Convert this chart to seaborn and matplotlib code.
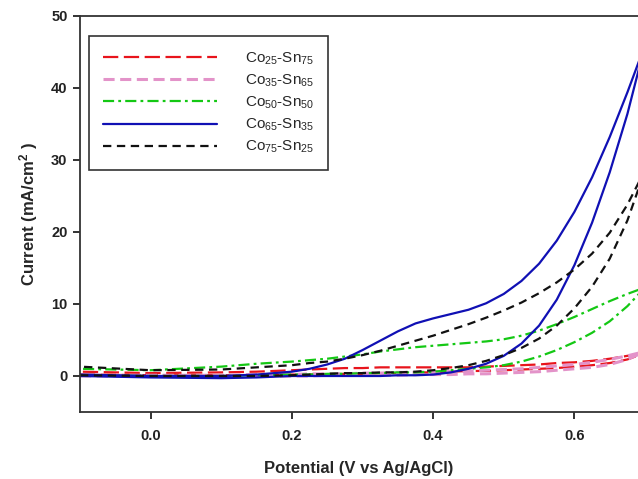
import matplotlib
matplotlib.use("Agg")
import matplotlib.pyplot as plt
import seaborn as sns
import pandas as pd

# potential grid (V vs Ag/AgCl), shared by both scan branches
potential = [-0.10, 0.00, 0.10, 0.15, 0.20, 0.225, 0.25, 0.275, 0.30, 0.325,
             0.35, 0.375, 0.40, 0.425, 0.45, 0.475, 0.50, 0.525, 0.55, 0.575,
             0.60, 0.625, 0.65, 0.675, 0.70]

alloys = ["Co$_{25}$-Sn$_{75}$", "Co$_{35}$-Sn$_{65}$", "Co$_{50}$-Sn$_{50}$",
          "Co$_{65}$-Sn$_{35}$", "Co$_{75}$-Sn$_{25}$"]

# current (mA/cm2), lower and upper branch of each loop
co25_low = [0.2, 0.1, 0.1, 0.1, 0.2, 0.2, 0.2, 0.3, 0.3, 0.4, 0.4, 0.5, 0.5,
            0.6, 0.7, 0.7, 0.8, 0.9, 1.0, 1.1, 1.3, 1.5, 1.8, 2.3, 3.2]
co25_up = [0.6, 0.4, 0.5, 0.6, 0.8, 0.9, 1.0, 1.1, 1.1, 1.2, 1.2, 1.2, 1.2,
           1.2, 1.2, 1.3, 1.4, 1.5, 1.6, 1.8, 1.9, 2.1, 2.4, 2.8, 3.2]
co35_low = [0.0, 0.0, 0.0, 0.0, 0.0, 0.0, 0.1, 0.1, 0.1, 0.1, 0.1, 0.2, 0.2,
            0.2, 0.3, 0.3, 0.4, 0.5, 0.6, 0.8, 1.0, 1.2, 1.6, 2.3, 3.4]
co35_up = [0.1, 0.1, 0.1, 0.2, 0.2, 0.3, 0.3, 0.3, 0.4, 0.4, 0.5, 0.5, 0.6,
           0.6, 0.7, 0.8, 0.9, 1.0, 1.2, 1.4, 1.6, 1.9, 2.3, 2.8, 3.4]
co50_low = [0.1, 0.0, 0.0, 0.1, 0.2, 0.2, 0.3, 0.3, 0.4, 0.4, 0.5, 0.5, 0.6,
            0.8, 1.0, 1.2, 1.5, 2.0, 2.7, 3.6, 4.7, 6.0, 7.6, 9.7, 12.3]
co50_up = [1.0, 0.8, 1.3, 1.7, 2.0, 2.2, 2.4, 2.7, 3.0, 3.4, 3.7, 4.0, 4.2,
           4.4, 4.6, 4.8, 5.1, 5.6, 6.3, 7.2, 8.2, 9.3, 10.4, 11.4, 12.3]
co65_low = [0.0, -0.2, -0.3, -0.2, 0.0, 0.0, 0.0, 0.0, 0.0, 0.0, 0.1, 0.1, 0.2,
            0.5, 1.0, 1.7, 2.8, 4.5, 7.0, 10.6, 15.4, 21.3, 28.3, 36.4, 46.0]
co65_up = [0.2, 0.0, 0.0, 0.2, 0.6, 1.0, 1.6, 2.4, 3.6, 4.9, 6.2, 7.3, 8.0,
           8.6, 9.2, 10.1, 11.4, 13.2, 15.6, 18.8, 22.8, 27.6, 33.2, 39.4, 46.0]
co75_low = [0.1, 0.0, 0.0, 0.0, 0.1, 0.2, 0.3, 0.4, 0.4, 0.5, 0.5, 0.6, 0.8,
            1.1, 1.5, 2.1, 2.9, 3.9, 5.2, 7.0, 9.4, 12.4, 16.3, 21.6, 28.6]
co75_up = [1.3, 0.8, 0.9, 1.2, 1.5, 1.8, 2.0, 2.4, 2.9, 3.5, 4.2, 4.9, 5.6,
           6.4, 7.2, 8.1, 9.1, 10.2, 11.5, 13.0, 14.8, 17.0, 19.9, 23.8, 28.6]

branches = [(co25_low, co25_up), (co35_low, co35_up), (co50_low, co50_up),
            (co65_low, co65_up), (co75_low, co75_up)]

colors = ["#e8141c", "#e393c9", "#14c814", "#1010b4", "#111111"]
styles = [(0, (11, 4)), (0, (8, 4)), (0, (8, 3, 2, 3)), "-", (0, (6, 4))]
widths = [1.6, 2.2, 1.6, 1.6, 1.6]

rows = []
for name, (low, up) in zip(alloys, branches):
    # forward scan on the lower branch, return on the upper one
    for v, c in zip(potential, low):
        rows.append((name, v, c))
    for v, c in zip(potential[::-1], up[::-1]):
        rows.append((name, v, c))
df = pd.DataFrame(rows, columns=["alloy", "potential", "current"])

sns.set_style("ticks")
plt.rcParams["font.family"] = ["Liberation Sans", "DejaVu Sans"]
plt.rcParams["mathtext.default"] = "regular"
plt.rcParams["lines.scale_dashes"] = False

fig = plt.figure(figsize=(6.38, 4.79), dpi=100)
ax = fig.add_axes([0.1254, 0.1399, 0.8746, 0.8267])

for name, col, ls, lw in zip(alloys, colors, styles, widths):
    sns.lineplot(data=df[df["alloy"] == name], x="potential", y="current",
                 sort=False, estimator=None, color=col, linestyle=ls,
                 linewidth=lw, label=name, ax=ax)

ax.set_xlim(-0.1, 0.69)
ax.set_ylim(-5, 50)
ax.set_xticks([0.0, 0.2, 0.4, 0.6])
ax.set_xticklabels(["0.0", "0.2", "0.4", "0.6"])
ax.set_yticks([0, 10, 20, 30, 40, 50])
ax.tick_params(length=5, width=1.3, labelsize=10.5, colors="#222222")
ax.tick_params(axis="x", pad=7)
ax.tick_params(axis="y", pad=4)
for lab in ax.get_xticklabels() + ax.get_yticklabels():
    lab.set_fontweight("bold")
for side in ["left", "top", "bottom"]:
    ax.spines[side].set_linewidth(1.3)
    ax.spines[side].set_color("#333333")
ax.spines["right"].set_visible(False)

ax.set_xlabel("Potential (V vs Ag/AgCl)", fontsize=12, fontweight="bold", labelpad=13)
ax.set_ylabel("Current (mA/cm$^2$ )", fontsize=12, fontweight="bold", labelpad=8)

leg = ax.legend(loc="upper left", bbox_to_anchor=(0.016, 0.949), fontsize=11,
                handlelength=7.45, handletextpad=1.8, labelspacing=0.37,
                borderpad=0.95, borderaxespad=0, fancybox=False, framealpha=1)
leg.get_frame().set_edgecolor("#333333")
leg.get_frame().set_linewidth(1.2)

fig.savefig("out.png", dpi=100)
